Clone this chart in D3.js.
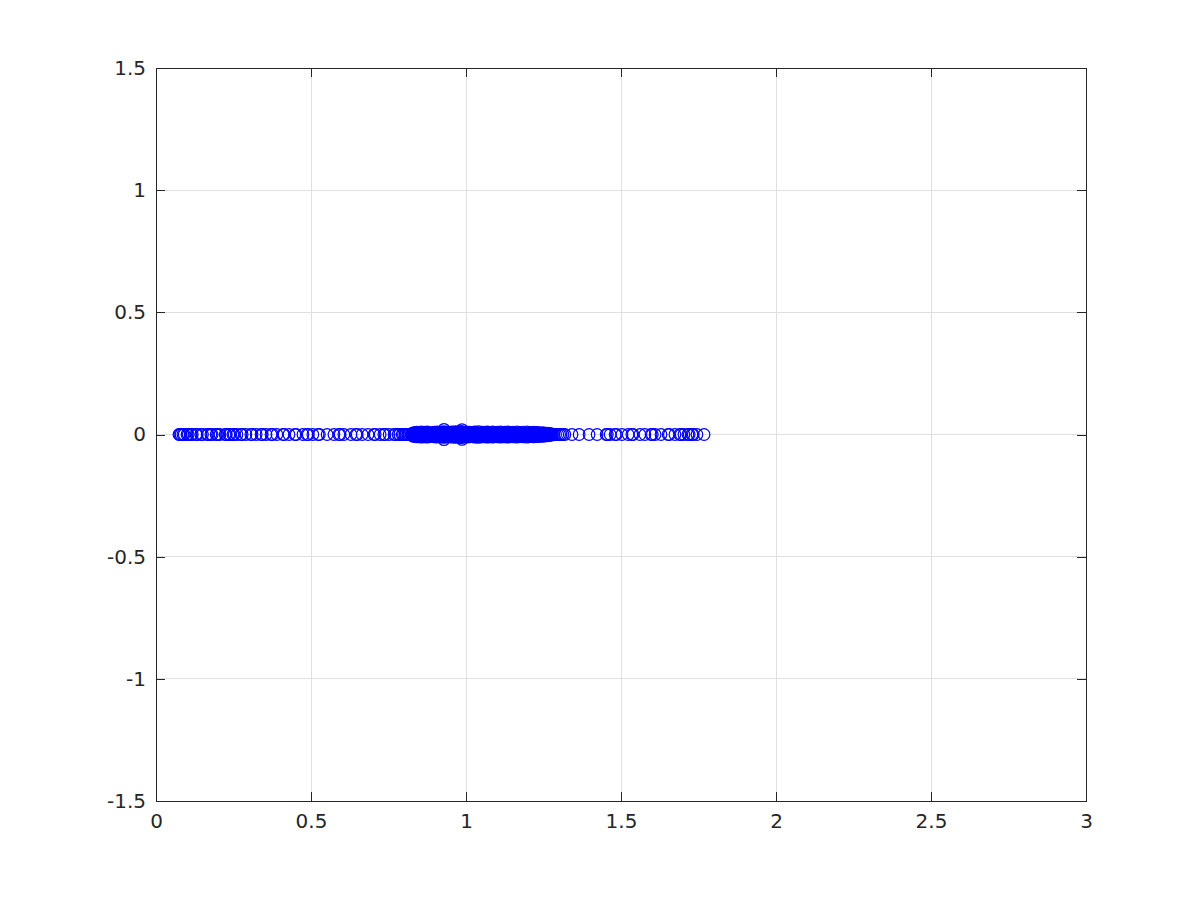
<!DOCTYPE html>
<html>
<head>
<meta charset="utf-8">
<script src="https://cdn.jsdelivr.net/npm/d3@7"></script>
<style>
  body { margin: 0; background: #fff; }
  text { font-family: "DejaVu Sans", sans-serif; }
</style>
</head>
<body>
<svg id="chart" width="1200" height="900"></svg>
<script>
(() => {
  // real points (imaginary part 0), sparse left tail
  const realLeft = [
    0.074, 0.077, 0.081, 0.087, 0.091, 0.100, 0.104, 0.113, 0.117, 0.129,
    0.133, 0.145, 0.150, 0.165, 0.168, 0.177, 0.181, 0.194, 0.198, 0.206,
    0.223, 0.227, 0.235, 0.239, 0.248, 0.252, 0.261, 0.274, 0.278, 0.290,
    0.306, 0.310, 0.323, 0.339, 0.343, 0.355, 0.371, 0.376, 0.390, 0.410,
    0.413, 0.429, 0.448, 0.452, 0.474, 0.487, 0.491, 0.506, 0.523, 0.527,
    0.552, 0.574, 0.590, 0.594, 0.606, 0.629, 0.645, 0.649, 0.665, 0.684,
    0.703, 0.707, 0.723, 0.735, 0.739, 0.752, 0.768, 0.772, 0.781, 0.786,
    0.794, 0.798, 0.803, 0.808, 0.813, 0.818, 0.823,
  ];
  // sparse right tail
  const realRight = [
    1.279, 1.283, 1.289, 1.296, 1.302, 1.307, 1.313, 1.319, 1.342, 1.365,
    1.397, 1.423, 1.452, 1.456, 1.465, 1.481, 1.485, 1.503, 1.523, 1.535,
    1.539, 1.561, 1.577, 1.597, 1.601, 1.610, 1.629, 1.652, 1.656, 1.674,
    1.690, 1.694, 1.703, 1.716, 1.720, 1.729, 1.733, 1.745, 1.768,
  ];
  // dense cluster: real parts and |imag| of conjugate pairs
  const denseRe = [
    0.826, 0.829, 0.833, 0.836, 0.839, 0.842, 0.846, 0.849, 0.852, 0.855,
    0.859, 0.862, 0.865, 0.868, 0.872, 0.875, 0.878, 0.881, 0.885, 0.888,
    0.891, 0.894, 0.898, 0.901, 0.904, 0.907, 0.911, 0.914, 0.917, 0.920,
    0.924, 0.927, 0.930, 0.933, 0.937, 0.940, 0.943, 0.946, 0.950, 0.953,
    0.956, 0.959, 0.963, 0.966, 0.969, 0.972, 0.976, 0.979, 0.982, 0.985,
    0.989, 0.992, 0.995, 0.998, 1.002, 1.005, 1.008, 1.011, 1.015, 1.018,
    1.021, 1.024, 1.028, 1.031, 1.034, 1.037, 1.041, 1.044, 1.047, 1.050,
    1.054, 1.057, 1.060, 1.063, 1.067, 1.070, 1.073, 1.076, 1.080, 1.083,
    1.086, 1.089, 1.093, 1.096, 1.099, 1.102, 1.106, 1.109, 1.112, 1.115,
    1.119, 1.122, 1.125, 1.128, 1.132, 1.135, 1.138, 1.141, 1.145, 1.148,
    1.151, 1.154, 1.158, 1.161, 1.164, 1.167, 1.171, 1.174, 1.177, 1.180,
    1.184, 1.187, 1.190, 1.193, 1.197, 1.200, 1.203, 1.206, 1.210, 1.213,
    1.216, 1.219, 1.223, 1.226, 1.229, 1.232, 1.236, 1.239, 1.242, 1.245,
    1.249, 1.252, 1.255, 1.258, 1.262, 1.265, 1.268, 1.271, 1.275,
  ];
  const denseIm = [
    0.003, 0.007, 0.000, 0.009, 0.004, 0.010, 0.002, 0.008, 0.005, 0.011,
    0.007, 0.002, 0.010, 0.008, 0.003, 0.011, 0.009, 0.004, 0.007, 0.001,
    0.008, 0.005, 0.010, 0.003, 0.007, 0.011, 0.004, 0.009, 0.006, 0.010,
    0.005, 0.012, 0.008, 0.003, 0.011, 0.006, 0.009, 0.004, 0.010, 0.007,
    0.011, 0.005, 0.009, 0.012, 0.006, 0.010, 0.003, 0.008, 0.011, 0.013,
    0.006, 0.010, 0.004, 0.009, 0.011, 0.005, 0.008, 0.010, 0.003, 0.007,
    0.009, 0.005, 0.011, 0.010, 0.004, 0.007, 0.012, 0.002, 0.008, 0.006,
    0.010, 0.009, 0.007, 0.003, 0.011, 0.005, 0.010, 0.006, 0.002, 0.008,
    0.011, 0.004, 0.009, 0.003, 0.007, 0.010, 0.008, 0.002, 0.011, 0.006,
    0.007, 0.003, 0.010, 0.008, 0.002, 0.011, 0.004, 0.009, 0.006, 0.001,
    0.010, 0.005, 0.008, 0.004, 0.011, 0.001, 0.007, 0.009, 0.006, 0.003,
    0.010, 0.005, 0.002, 0.008, 0.011, 0.004, 0.007, 0.001, 0.009, 0.006,
    0.003, 0.010, 0.005, 0.008, 0.000, 0.009, 0.004, 0.007, 0.002, 0.006,
    0.008, 0.003, 0.005, 0.001, 0.006, 0.002, 0.004, 0.000, 0.003,
  ];
  // the two pairs that stick out above and below the band
  const outlierRe = [0.929, 0.987];
  const outlierIm = [0.021, 0.020];

  const xTicks = [0, 0.5, 1, 1.5, 2, 2.5, 3];
  const yTicks = [-1.5, -1, -0.5, 0, 0.5, 1, 1.5];

  const points = realLeft.concat(realRight).map((re) => ({ re, im: 0 }));
  const addPairs = (res, ims) => {
    res.forEach((re, i) => {
      points.push({ re, im: ims[i] });
      points.push({ re, im: -ims[i] });
    });
  };
  addPairs(denseRe, denseIm);
  addPairs(outlierRe, outlierIm);

  const left = 156;
  const right = 1086;
  const top = 68;
  const bottom = 801;
  const tickLen = 9;
  const axisColor = "#262626";
  const gridColor = "#dfdfdf";

  const x = d3.scaleLinear().domain([0, 3]).range([left, right]);
  const y = d3.scaleLinear().domain([-1.5, 1.5]).range([bottom, top]);

  const svg = d3.select("#chart");
  const fmt = (d) => String(d);

  // grid
  svg.append("g")
    .selectAll("line")
    .data(xTicks.slice(1, -1))
    .join("line")
    .attr("x1", (d) => x(d)).attr("x2", (d) => x(d))
    .attr("y1", top).attr("y2", bottom)
    .attr("stroke", gridColor)
    .attr("shape-rendering", "crispEdges");
  svg.append("g")
    .selectAll("line")
    .data(yTicks.slice(1, -1))
    .join("line")
    .attr("x1", left).attr("x2", right)
    .attr("y1", (d) => y(d)).attr("y2", (d) => y(d))
    .attr("stroke", gridColor)
    .attr("shape-rendering", "crispEdges");

  // box with inward ticks on all four sides
  const styleAxis = (g) => {
    g.attr("shape-rendering", "crispEdges");
    g.select(".domain").attr("stroke", axisColor);
    g.selectAll(".tick line").attr("stroke", axisColor);
    g.selectAll(".tick text")
      .attr("fill", axisColor)
      .style("font-size", "20px")
      .style("font-family", "'DejaVu Sans', sans-serif");
  };

  svg.append("g")
    .attr("transform", `translate(0,${bottom})`)
    .call(d3.axisBottom(x).tickValues(xTicks).tickFormat(fmt)
      .tickSizeInner(-tickLen).tickSizeOuter(0).tickPadding(13))
    .call(styleAxis);
  svg.append("g")
    .attr("transform", `translate(0,${top})`)
    .call(d3.axisTop(x).tickValues(xTicks).tickFormat("")
      .tickSizeInner(-tickLen).tickSizeOuter(0))
    .call(styleAxis);
  svg.append("g")
    .attr("transform", `translate(${left},0)`)
    .call(d3.axisLeft(y).tickValues(yTicks).tickFormat(fmt)
      .tickSizeInner(-tickLen).tickSizeOuter(0).tickPadding(10))
    .call(styleAxis);
  svg.append("g")
    .attr("transform", `translate(${right},0)`)
    .call(d3.axisRight(y).tickValues(yTicks).tickFormat("")
      .tickSizeInner(-tickLen).tickSizeOuter(0))
    .call(styleAxis);

  // markers
  svg.append("g")
    .selectAll("circle")
    .data(points)
    .join("circle")
    .attr("cx", (d) => x(d.re))
    .attr("cy", (d) => y(d.im))
    .attr("r", 5.8)
    .attr("fill", "none")
    .attr("stroke", "#0000ff")
    .attr("stroke-width", 1.2);
})();
</script>
</body>
</html>
